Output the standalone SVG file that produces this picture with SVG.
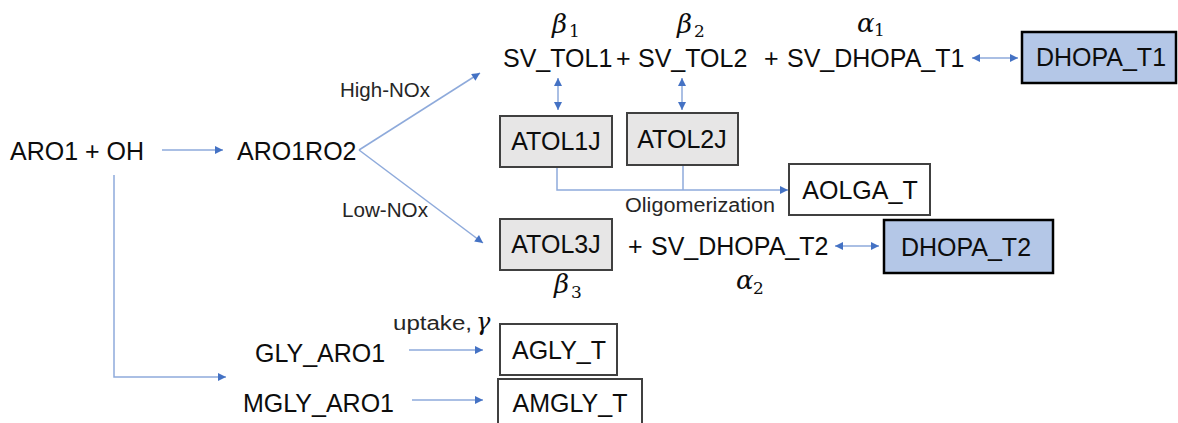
<svg xmlns="http://www.w3.org/2000/svg" width="1178" height="423" viewBox="0 0 1178 423">
<style>
.t{font-family:"Liberation Sans",Arial,sans-serif;font-size:25px;fill:#0d0d0d}
.c{text-anchor:middle}
.s{font-family:"Liberation Sans",Arial,sans-serif;font-size:20px;fill:#262626}
.g{font-family:"DejaVu Serif","Liberation Serif",serif;font-style:italic;font-size:26px;fill:#0d0d0d}
.sub{font-family:"DejaVu Serif","Liberation Serif",serif;font-size:17px;fill:#0d0d0d}
.grey{fill:#e7e6e6;stroke:#404040;stroke-width:2}
.white{fill:#ffffff;stroke:#404040;stroke-width:2}
.blue{fill:#b4c7e7;stroke:#000000;stroke-width:2.5}
.ln{fill:none;stroke:#8eaadb;stroke-width:1.5}
</style>
<defs>
<marker id="ah" viewBox="0 0 10 10" refX="10" refY="5" markerUnits="userSpaceOnUse" markerWidth="10" markerHeight="8" orient="auto-start-reverse">
<path d="M0,0 L10,5 L0,10 z" fill="#4472c4"/>
</marker>
</defs>
<rect width="1178" height="423" fill="#ffffff"/>

<g id="connectors">
<line class="ln" x1="162" y1="150" x2="223" y2="150" marker-end="url(#ah)"/>
<line class="ln" x1="359" y1="150" x2="480" y2="73" marker-end="url(#ah)"/>
<line class="ln" x1="359" y1="150" x2="483" y2="243" marker-end="url(#ah)"/>
<polyline class="ln" points="114,175 114,377 226,377" marker-end="url(#ah)"/>
<line class="ln" x1="409" y1="350" x2="483" y2="350" marker-end="url(#ah)"/>
<line class="ln" x1="412" y1="400" x2="483" y2="400" marker-end="url(#ah)"/>
<line class="ln" x1="558" y1="78" x2="558" y2="110" marker-start="url(#ah)" marker-end="url(#ah)"/>
<line class="ln" x1="682" y1="78" x2="682" y2="110" marker-start="url(#ah)" marker-end="url(#ah)"/>
<line class="ln" x1="972" y1="58" x2="1018" y2="58" marker-start="url(#ah)" marker-end="url(#ah)"/>
<line class="ln" x1="835" y1="246" x2="879" y2="246" marker-start="url(#ah)" marker-end="url(#ah)"/>
<polyline class="ln" points="557,167 557,190 788,190" marker-end="url(#ah)"/>
<line class="ln" x1="683" y1="165" x2="683" y2="190"/>
</g>

<g id="labels">
<text class="s" x="340" y="97" textLength="90" lengthAdjust="spacingAndGlyphs">High-NOx</text>
<text class="s" x="342" y="217" textLength="86" lengthAdjust="spacingAndGlyphs">Low-NOx</text>
<text class="s" x="625" y="212" textLength="150" lengthAdjust="spacingAndGlyphs">Oligomerization</text>
<text class="s" x="393" y="330" textLength="79" lengthAdjust="spacingAndGlyphs">uptake,</text>
<text class="g" x="476" y="330" style="font-size:24px">γ</text>
</g>

<g id="node-aro1-oh"><text class="t" x="10" y="160">ARO1 + OH</text></g>
<g id="node-aro1ro2"><text class="t" x="237" y="160">ARO1RO2</text></g>

<g id="node-sv-tol1">
<text class="t" x="503" y="67">SV_TOL1</text>
<text class="g" x="552" y="33">β</text><text class="sub" x="569" y="37">1</text>
</g>
<g id="plus1"><text class="t" x="616" y="67">+</text></g>
<g id="node-sv-tol2">
<text class="t" x="638" y="67">SV_TOL2</text>
<text class="g" x="677" y="33">β</text><text class="sub" x="694" y="37">2</text>
</g>
<g id="node-sv-dhopa-t1">
<text class="t" x="764" y="67">+</text>
<text class="t" x="787" y="67">SV_DHOPA_T1</text>
<text class="g" x="857" y="32">α</text><text class="sub" x="874" y="36">1</text>
</g>
<g id="node-dhopa-t1">
<rect class="blue" x="1022" y="32" width="154" height="51"/>
<text class="t c" x="1101" y="66">DHOPA_T1</text>
</g>

<g id="node-atol1j">
<rect class="grey" x="500" y="116" width="112" height="51"/>
<text class="t c" x="556" y="150">ATOL1J</text>
</g>
<g id="node-atol2j">
<rect class="grey" x="627" y="113" width="111" height="52"/>
<text class="t c" x="682" y="148">ATOL2J</text>
</g>
<g id="node-aolga-t">
<rect class="white" x="789" y="164" width="141" height="51"/>
<text class="t c" x="860" y="199">AOLGA_T</text>
</g>
<g id="node-atol3j">
<rect class="grey" x="500" y="219" width="112" height="51"/>
<text class="t c" x="556" y="253">ATOL3J</text>
<text class="g" x="554" y="293">β</text><text class="sub" x="571" y="298">3</text>
</g>
<g id="node-sv-dhopa-t2">
<text class="t" x="628" y="255">+</text>
<text class="t" x="651" y="255">SV_DHOPA_T2</text>
<text class="g" x="736" y="289">α</text><text class="sub" x="753" y="294">2</text>
</g>
<g id="node-dhopa-t2">
<rect class="blue" x="884" y="220" width="169" height="53"/>
<text class="t c" x="966" y="256">DHOPA_T2</text>
</g>

<g id="node-gly-aro1"><text class="t" x="255" y="362">GLY_ARO1</text></g>
<g id="node-mgly-aro1"><text class="t" x="243" y="412">MGLY_ARO1</text></g>
<g id="node-agly-t">
<rect class="white" x="500" y="324" width="117" height="51"/>
<text class="t c" x="559" y="359">AGLY_T</text>
</g>
<g id="node-amgly-t">
<rect class="white" x="498" y="379" width="144" height="60"/>
<text class="t c" x="570" y="412">AMGLY_T</text>
</g>
</svg>
